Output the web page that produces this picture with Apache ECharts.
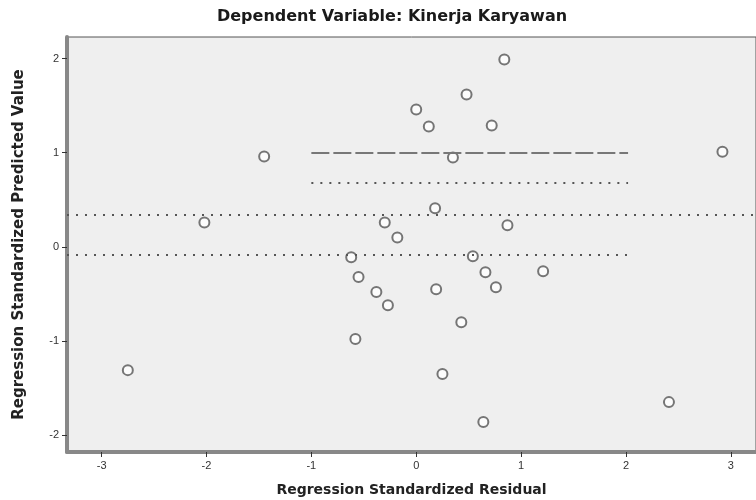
<!DOCTYPE html>
<html>
<head>
<meta charset="utf-8">
<script src="https://cdn.jsdelivr.net/npm/echarts@6/dist/echarts.min.js"></script>
<style>
html,body{margin:0;padding:0;background:#fff;}
#chart{width:756px;height:500px;}
</style>
</head>
<body>
<div id="chart"></div>
<script>
// ---- data ----
const titleText = 'Dependent Variable: Kinerja Karyawan';
const xAxisName = 'Regression Standardized Residual';
const yAxisName = 'Regression Standardized Predicted Value';
const xTicks = [-3, -2, -1, 0, 1, 2, 3];
const yTicks = [-2, -1, 0, 1, 2];
const residuals = [0.84, 0.48, 0.00, 0.12, 0.72, -1.45, 0.35, 2.92, -2.02, 0.18, -0.30, 0.87, -0.18, -0.62, 0.54, -0.55, 0.66, 1.21, -0.38, -0.27, 0.19, 0.76, 0.43, -0.58, -2.75, 0.25, 2.41, 0.64];
const predicted = [1.99, 1.62, 1.46, 1.28, 1.29, 0.96, 0.95, 1.01, 0.26, 0.41, 0.26, 0.23, 0.10, -0.11, -0.10, -0.32, -0.27, -0.26, -0.48, -0.62, -0.45, -0.43, -0.80, -0.98, -1.31, -1.35, -1.65, -1.86];
// faint reference/dotted lines visible in the picture: [y, xStart, xEnd]
const dashedRefs = [[1.0, -1.0, 2.02]];
const dottedRefs = [[0.68, -1.0, 2.02], [0.34, -3.33, 3.24], [-0.08, -3.33, 2.02]];

const points = residuals.map((x, i) => [x, predicted[i]]);
const toLine = r => [{coord: [r[1], r[0]]}, {coord: [r[2], r[0]]}];

const chart = echarts.init(document.getElementById('chart'));
chart.setOption({
  animation: false,
  backgroundColor: '#ffffff',
  title: {
    text: titleText,
    left: 387, top: 4, textAlign: 'center',
    textStyle: {fontFamily: 'DejaVu Sans', fontWeight: 'bold', fontSize: 16, color: '#1a1a1a'}
  },
  grid: {
    left: 67, top: 37, right: 0, bottom: 48,
    outerBoundsMode: 'none', containLabel: false,
    show: true, backgroundColor: '#efefef', borderColor: '#555', borderWidth: 1
  },
  xAxis: {
    type: 'value', min: -3.33, max: 3.24,
    name: xAxisName, nameLocation: 'middle', nameGap: 31,
    nameTextStyle: {fontFamily: 'DejaVu Sans', fontWeight: 'bold', fontSize: 14, color: '#222'},
    axisLine: {show: true, onZero: false, lineStyle: {color: '#888', width: 4}},
    axisTick: {show: true, customValues: xTicks, length: 5, lineStyle: {color: '#333', width: 1}},
    axisLabel: {customValues: xTicks, fontFamily: 'Liberation Sans', fontSize: 11, color: '#333', margin: 8},
    splitLine: {show: false}
  },
  yAxis: {
    type: 'value', min: -2.18, max: 2.23,
    name: yAxisName, nameLocation: 'middle', nameGap: 40, nameRotate: 90,
    nameTextStyle: {fontFamily: 'DejaVu Sans', fontWeight: 'bold', fontSize: 15, color: '#222'},
    axisLine: {show: true, onZero: false, lineStyle: {color: '#888', width: 4}},
    axisTick: {show: true, customValues: yTicks, length: 5, lineStyle: {color: '#333', width: 1}},
    axisLabel: {customValues: yTicks, fontFamily: 'Liberation Sans', fontSize: 11, color: '#333', margin: 8},
    splitLine: {show: false}
  },
  series: [{
    type: 'scatter',
    data: points,
    symbol: 'emptyCircle',
    symbolSize: 10,
    itemStyle: {color: '#555', borderColor: '#4a4a4a', borderWidth: 1.8},
    markLine: {
      silent: true, symbol: 'none', label: {show: false},
      data: dashedRefs.map(r => {
        const l = toLine(r);
        l[0].lineStyle = {type: [18, 4], color: '#777', width: 2};
        return l;
      }).concat(dottedRefs.map(r => {
        const l = toLine(r);
        l[0].lineStyle = {type: [2, 7], color: '#555', width: 2};
        return l;
      }))
    }
  }]
});
</script>
</body>
</html>
